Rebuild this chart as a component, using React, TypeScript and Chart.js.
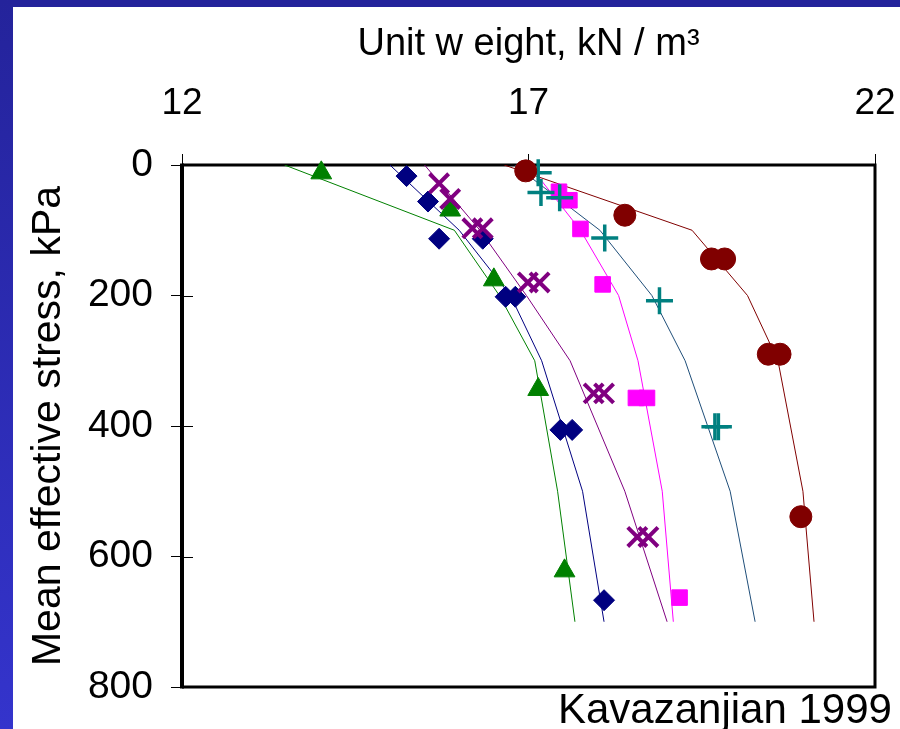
import { useEffect, useRef } from "react";
import { Chart, registerables } from "chart.js";

Chart.register(...registerables);

// ---- Data (unit weight kN/m3 vs mean effective stress kPa) ----
const stressKnots = [0, 100, 200, 300, 500, 700];
const greenCurve = [13.48, 15.93, 16.58, 17.09, 17.42, 17.67];
const navyCurve = [15.0, 16.0, 16.74, 17.19, 17.78, 18.09];
const purpleCurve = [15.5, 16.3, 16.97, 17.6, 18.39, 19.0];
const magentaCurve = [17.01, 17.75, 18.3, 18.58, 18.93, 19.09];
const tealCurve = [16.8, 18.03, 18.78, 19.26, 19.91, 20.27];
const redCurve = [16.65, 19.36, 20.16, 20.6, 20.96, 21.12];

const greenX = [14.01, 15.87, 16.5, 17.14, 17.52];
const greenY = [12, 69, 176, 344, 622];
const navyX = [15.24, 15.55, 15.71, 16.34, 16.67, 16.81, 17.46, 17.63, 18.09];
const navyY = [17, 56, 113, 113, 202, 202, 406, 406, 667];
const purpleX = [15.71, 15.87, 16.19, 16.34, 16.99, 17.16, 17.94, 18.09, 18.57, 18.73];
const purpleY = [28, 52, 97, 97, 180, 180, 350, 350, 570, 570];
const magentaX = [17.44, 17.59, 17.75, 18.07, 18.55, 18.71, 19.18];
const magentaY = [41, 54, 98, 183, 357, 357, 663];
const tealX = [17.14, 17.18, 17.45, 18.1, 18.89, 19.69, 19.74];
const tealY = [12, 42, 50, 112, 208, 401, 401];
const redX = [16.96, 18.39, 19.64, 19.83, 20.46, 20.63, 20.93];
const redY = [9, 77, 144, 144, 290, 290, 539];

const xTickValues = [12, 17, 22];
const yTickValues = [0, 200, 400, 600, 800];

const FONT = "'Liberation Sans', Arial, sans-serif";

const pts = (xs: number[], ys: number[]) => xs.map((x, i) => ({ x, y: ys[i] }));

const boxPlugin = {
  id: "boxAndStubs",
  beforeDatasetsDraw(chart: any) {
    const { ctx, chartArea: a, scales } = chart;
    ctx.save();
    ctx.strokeStyle = "#000";
    ctx.lineWidth = 1;
    scales.y.ticks.forEach((t: any) => {
      const py = Math.round(scales.y.getPixelForValue(t.value)) + 0.5;
      ctx.beginPath();
      ctx.moveTo(a.left, py);
      ctx.lineTo(a.left + 11, py);
      ctx.stroke();
    });
    ctx.lineWidth = 3;
    ctx.beginPath();
    ctx.moveTo(a.left, a.top);
    ctx.lineTo(a.right, a.top);
    ctx.lineTo(a.right, a.bottom);
    ctx.lineTo(a.left, a.bottom);
    ctx.stroke();
    ctx.lineWidth = 4;
    ctx.beginPath();
    ctx.moveTo(a.left, a.top - 1.5);
    ctx.lineTo(a.left, a.bottom + 1.5);
    ctx.stroke();
    ctx.restore();
  },
};

function lineSet(xs: number[], color: string) {
  return {
    data: pts(xs, stressKnots),
    showLine: true,
    borderColor: color,
    borderWidth: 1,
    pointRadius: 0,
    tension: 0,
    fill: false,
  };
}

function markerSet(xs: number[], ys: number[], style: string, color: string, r: number, bw: number) {
  return {
    data: pts(xs, ys),
    showLine: false,
    pointStyle: style,
    pointRadius: r,
    pointBorderWidth: bw,
    backgroundColor: color,
    borderColor: color,
    pointBackgroundColor: color,
    pointBorderColor: color,
    clip: false,
  };
}

export default function App() {
  const ref = useRef<HTMLCanvasElement | null>(null);
  useEffect(() => {
    if (!ref.current) return;
    const chart = new Chart(ref.current, {
      type: "scatter",
      data: {
        datasets: [
          markerSet(redX, redY, "circle", "#800000", 11, 1),
          markerSet(tealX, tealY, "cross", "#008080", 13.5, 3.5),
          markerSet(magentaX, magentaY, "rect", "#FF00FF", 11, 1),
          markerSet(purpleX, purpleY, "crossRot", "#800080", 13.5, 4),
          markerSet(navyX, navyY, "rectRot", "#000080", 10.5, 1),
          markerSet(greenX, greenY, "triangle", "#008000", 12, 1),
          lineSet(redCurve, "#800000"),
          lineSet(tealCurve, "#1F4E79"),
          lineSet(magentaCurve, "#FF00FF"),
          lineSet(purpleCurve, "#800080"),
          lineSet(navyCurve, "#000080"),
          lineSet(greenCurve, "#008000"),
        ] as any,
      },
      options: {
        animation: false,
        responsive: false,
        maintainAspectRatio: false,
        layout: { padding: { left: 0, top: 0, right: 25, bottom: 42 } },
        plugins: { legend: { display: false }, tooltip: { enabled: false } },
        scales: {
          x: {
            type: "linear",
            position: "top",
            min: 12,
            max: 22,
            afterBuildTicks: (s: any) => {
              s.ticks = xTickValues.map((v) => ({ value: v }));
            },
            afterFit: (s: any) => {
              s.height = 165;
              s.paddingLeft = 0;
              s.paddingRight = 0;
            },
            border: { display: false },
            grid: {
              drawOnChartArea: false,
              drawTicks: true,
              tickLength: 11,
              tickColor: "#000",
              color: "#000",
              lineWidth: 1,
            },
            ticks: {
              color: "#000",
              padding: 28,
              font: { family: FONT, size: 37 },
              callback: (v: any) => String(v),
            },
            title: {
              display: true,
              text: "Unit w eight, kN / m³",
              color: "#000",
              padding: { top: 22, bottom: 0 },
              font: { family: FONT, size: 38 },
            },
          },
          y: {
            type: "linear",
            position: "left",
            min: 0,
            max: 800,
            reverse: true,
            afterBuildTicks: (s: any) => {
              s.ticks = yTickValues.map((v) => ({ value: v }));
            },
            afterFit: (s: any) => {
              s.width = 182;
              s.paddingTop = 0;
              s.paddingBottom = 0;
            },
            border: { display: false },
            grid: {
              drawOnChartArea: false,
              drawTicks: true,
              tickLength: 11,
              tickColor: "#000",
              color: "#000",
              lineWidth: 1,
            },
            ticks: {
              color: "#000",
              padding: 18,
              font: { family: FONT, size: 39 },
              callback: (v: any) => String(v),
            },
            title: {
              display: true,
              text: "Mean effective stress, kPa",
              color: "#000",
              padding: { top: 24, bottom: 0 },
              font: { family: FONT, size: 41 },
            },
          },
        },
      } as any,
      plugins: [boxPlugin],
    });
    return () => chart.destroy();
  }, []);

  return (
    <div
      style={{
        position: "fixed",
        left: 0,
        top: 0,
        width: 900,
        height: 729,
        background: "#fff",
        overflow: "hidden",
      }}
    >
      <canvas ref={ref} width={900} height={729} style={{ position: "absolute", left: 0, top: 0, width: 900, height: 729 }} />
      <div
        style={{
          position: "absolute",
          left: 0,
          top: 0,
          width: 900,
          height: 7,
          background: "#24239b",
        }}
      />
      <div
        style={{
          position: "absolute",
          left: 0,
          top: 0,
          width: 13,
          height: 729,
          background: "linear-gradient(#24239b, #3434cc)",
        }}
      />
      <div
        style={{
          position: "absolute",
          left: 558,
          top: 688,
          fontFamily: FONT,
          fontSize: 42,
          lineHeight: "42px",
          color: "#000",
          whiteSpace: "nowrap",
        }}
      >
        Kavazanjian 1999
      </div>
    </div>
  );
}
